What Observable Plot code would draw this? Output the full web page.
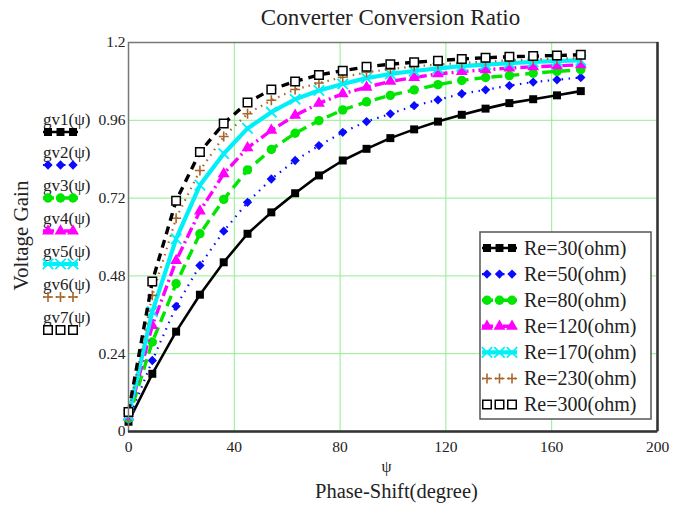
<!DOCTYPE html>
<html><head><meta charset="utf-8">
<script src="https://cdn.jsdelivr.net/npm/d3@7"></script>
<script src="https://cdn.jsdelivr.net/npm/@observablehq/plot@0.6"></script>
<style>body{margin:0;background:#fff} svg{display:block}</style>
</head><body><div id="chart"></div>
<script>
// ---- data ----
const phase = [0,9,18,27,36,45,54,63,72,81,90,99,108,117,126,135,144,153,162,171];
const gv1 = [0.03,0.178,0.308,0.422,0.522,0.610,0.676,0.735,0.790,0.836,0.872,0.905,0.932,0.956,0.977,0.996,1.013,1.025,1.037,1.050];
const gv2 = [0.035,0.219,0.386,0.512,0.618,0.707,0.779,0.836,0.882,0.923,0.956,0.980,1.005,1.023,1.042,1.054,1.067,1.078,1.085,1.092];
const gv3 = [0.04,0.276,0.456,0.610,0.716,0.807,0.870,0.920,0.959,0.992,1.017,1.037,1.054,1.070,1.083,1.092,1.098,1.105,1.111,1.116];
const gv4 = [0.045,0.327,0.527,0.680,0.795,0.875,0.929,0.975,1.012,1.042,1.062,1.080,1.092,1.103,1.110,1.116,1.121,1.125,1.128,1.131];
const gv5 = [0.05,0.370,0.594,0.760,0.857,0.935,0.985,1.025,1.052,1.072,1.090,1.103,1.112,1.120,1.127,1.132,1.136,1.140,1.143,1.145];
const gv6 = [0.055,0.420,0.658,0.805,0.910,0.980,1.022,1.055,1.075,1.093,1.108,1.118,1.126,1.132,1.137,1.141,1.145,1.148,1.150,1.152];
const gv7 = [0.06,0.463,0.712,0.862,0.950,1.015,1.055,1.080,1.100,1.113,1.125,1.133,1.139,1.144,1.149,1.153,1.156,1.158,1.160,1.162];
const seriesNames = ["Re=30(ohm)","Re=50(ohm)","Re=80(ohm)","Re=120(ohm)","Re=170(ohm)","Re=230(ohm)","Re=300(ohm)"];
const funcNames = ["gv1(\u03c8)","gv2(\u03c8)","gv3(\u03c8)","gv4(\u03c8)","gv5(\u03c8)","gv6(\u03c8)","gv7(\u03c8)"];
const xTicks = [0,40,80,120,160,200];
const yTicks = [0,0.24,0.48,0.72,0.96,1.2];
const titleText = "Converter Conversion Ratio";
const xLabel1 = "\u03c8";
const xLabel2 = "Phase-Shift(degree)";
const yLabel = "Voltage Gain";

// ---- styles ----
const styles = [
  {color:"#000000", width:2.6, dash:null,        symbol:"square",   fill:"#000000", stroke:"none", sw:0,   r:4.5},
  {color:"#0a0aff", width:2.2, dash:"1.5,5.5",   symbol:"diamond2", fill:"#0a0aff", stroke:"none", sw:0,   r:4.2},
  {color:"#00e600", width:3.4, dash:"11,6",      symbol:"circle",   fill:"#00e600", stroke:"none", sw:0,   r:4.7},
  {color:"#ff00ff", width:3.4, dash:"11,4,2,4",  symbol:"triangle", fill:"#ff00ff", stroke:"none", sw:0,   r:4.4},
  {color:"#00f0f8", width:4.2, dash:null,        symbol:"times",    fill:"none",    stroke:"#00f0f8", sw:1.8, r:4.8},
  {color:"#a8652a", width:2.2, dash:"1.5,5",     symbol:"plus",     fill:"none",    stroke:"#a8652a", sw:1.6, r:3.3},
  {color:"#000000", width:3.4, dash:"8,6",       symbol:"square",   fill:"#ffffff", stroke:"#000000", sw:1.5, r:4.8}
];
const allSeries = [gv1,gv2,gv3,gv4,gv5,gv6,gv7];
const rows = allSeries.map((vals,i)=>phase.map((p,j)=>({x:p, y:vals[j], s:seriesNames[i]})));

const W=673, H=506, mL=128, mR=16, mT=42, mB=75;
const serif = "'Liberation Serif','Times New Roman',serif";

const marks = [
  Plot.gridX({ticks: xTicks.slice(1,-1), stroke:"#8fee8f", strokeOpacity:1, strokeWidth:1}),
  Plot.gridY({ticks: yTicks.slice(1,-1), stroke:"#8fee8f", strokeOpacity:1, strokeWidth:1}),
  Plot.axisX({ticks: xTicks, tickSize:0, tickPadding:9, fontSize:15.5, label:null, tickFormat:d=>String(d)}),
  Plot.axisY({ticks: yTicks, tickSize:0, tickPadding:3, fontSize:15.5, label:null, tickFormat:d=>String(d)})
];
rows.forEach((data,i)=>{
  const st = styles[i];
  marks.push(Plot.line(data, {x:"x", y:"y", stroke:st.color, strokeWidth:st.width, strokeDasharray:st.dash||undefined, strokeLinecap:"butt"}));
  marks.push(Plot.dot(data, {x:"x", y:"y", symbol:st.symbol, r:st.r, fill:st.fill, stroke:st.stroke, strokeWidth:st.sw}));
});
marks.push(Plot.frame({stroke:"#777", strokeWidth:1.5}));
marks.push(Plot.ruleY([0], {stroke:"#333", strokeWidth:2.5}));
marks.push(Plot.ruleX([200], {stroke:"#333", strokeWidth:2.5}));

const chart = Plot.plot({
  width:W, height:H, marginLeft:mL, marginRight:mR, marginTop:mT, marginBottom:mB,
  style:{fontFamily:serif, color:"#222", background:"#fff", overflow:"visible"},
  x:{domain:[0,200]},
  y:{domain:[0,1.2]},
  marks
});
document.getElementById("chart").appendChild(chart);

const svg = d3.select(chart);
const cx = (mL + W - mR)/2;
const symMap = {square:d3.symbolSquare, diamond2:d3.symbolDiamond2, circle:d3.symbolCircle, triangle:d3.symbolTriangle, times:d3.symbolTimes, plus:d3.symbolPlus};

function label(x, y, size, txt, anchor){
  return svg.append("text").attr("x", x).attr("y", y).attr("text-anchor", anchor)
    .attr("font-family", serif).attr("font-size", size).attr("fill","#222").text(txt);
}
// title and axis labels
label(cx-2, 25, 23, titleText, "middle");
label(cx-6, 472, 16, xLabel1, "middle");
label(cx+4, 498, 20.5, xLabel2, "middle");
svg.append("text").attr("transform", `translate(28,${(mT + H - mB)/2 - 1}) rotate(-90)`).attr("text-anchor","middle")
  .attr("font-family", serif).attr("font-size", 21).attr("fill","#222").text(yLabel);

function sample(g, x0, y, st){
  g.append("line").attr("x1",x0).attr("x2",x0+35).attr("y1",y).attr("y2",y)
    .attr("stroke",st.color).attr("stroke-width",st.width).attr("stroke-dasharray",st.dash||null);
  [5,17.5,30].forEach(dx=>{
    g.append("path").attr("transform",`translate(${x0+dx},${y})`)
      .attr("d", d3.symbol(symMap[st.symbol], Math.PI*st.r*st.r)())
      .attr("fill", st.fill).attr("stroke", st.stroke).attr("stroke-width", st.sw);
  });
}

// left legend (function names)
funcNames.forEach((name,i)=>{
  const ys = 132 + i*33;
  label(43, ys-7, 17, name, "start");
  sample(svg, 43, ys, styles[i]);
});

// right legend (Re values)
svg.append("rect").attr("x",480).attr("y",232).attr("width",171).attr("height",187)
  .attr("fill","#fff").attr("stroke","#555").attr("stroke-width",1.5);
seriesNames.forEach((name,i)=>{
  const ys = 248 + i*26.1;
  sample(svg, 482, ys, styles[i]);
  label(524, ys+6.5, 20, name, "start");
});
</script>
</body></html>
